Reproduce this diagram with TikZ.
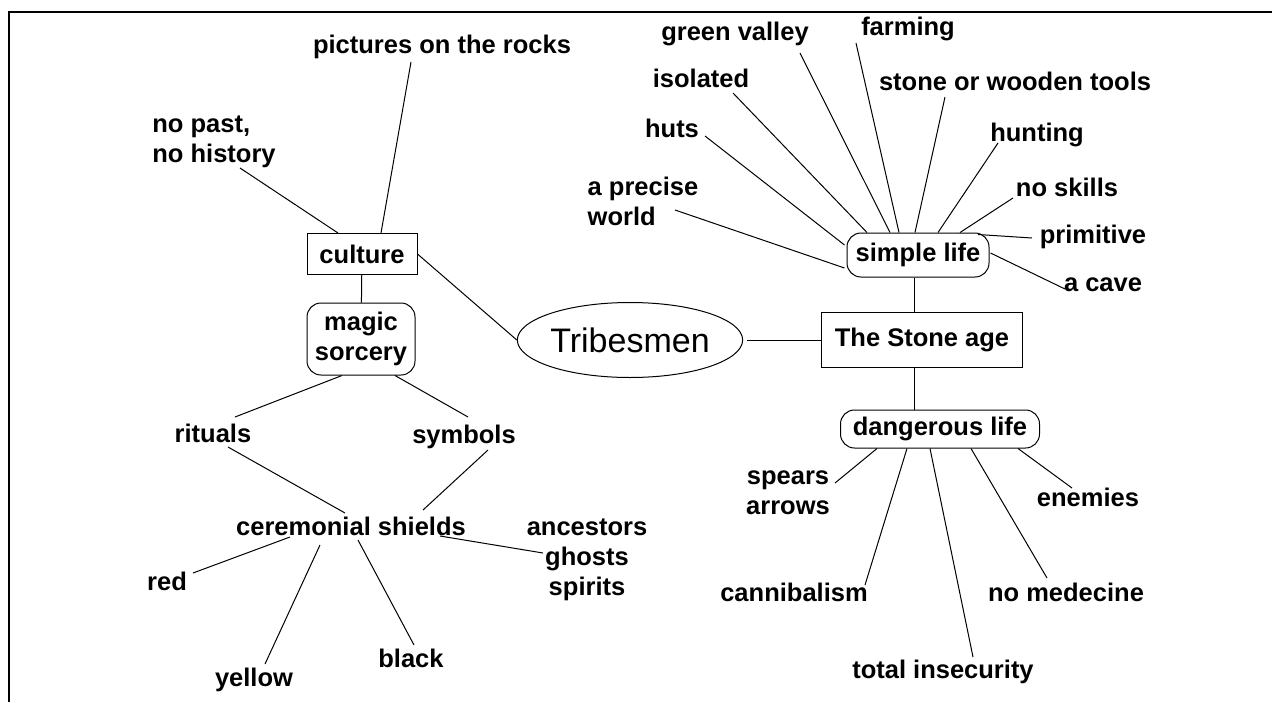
\documentclass[tikz,border=0pt]{standalone}
\usepackage{fontspec}
\setmainfont{Liberation Sans}
\usepackage{tikz}
\usetikzlibrary{positioning,shapes.geometric}

\begin{document}
\begin{tikzpicture}[x=1pt, y=-1pt,
    word/.style={font=\bfseries\fontsize{25.5}{30}\selectfont, inner sep=2pt, align=center},
    topic/.style={word, draw, line width=1pt, minimum height=42pt},
    softbox/.style={topic, rounded corners=14pt},
    link/.style={line width=1pt},
]
\useasboundingbox (0,0) rectangle (1272,702);
\draw[line width=2.5pt] (1272,12) -- (9,12) -- (9,702);

% centre
\node[ellipse, draw, line width=1pt, minimum width=207pt, minimum height=75pt, inner sep=0pt,
    font=\fontsize{34}{40}\selectfont] (tribes) at (630,340) {Tribesmen};

% culture side
\node[word] (pictures) at (442,47) {pictures on the rocks};
\node[word, align=left] (nopast) at (214,142) {no past,\\no history};
\node[topic, minimum width=110pt, minimum height=41pt] (culture) at (362,254) {culture};
\node[softbox, minimum width=108pt, minimum height=72pt] (magic) at (361,339) {magic\\sorcery};
\node[word] (rituals) at (213,433) {rituals};
\node[word] (symbols) at (464,437) {symbols};
\node[word] (shields) at (351,526) {ceremonial shields};
\node[word] (spirits) at (587,560) {ancestors\\ghosts\\spirits};
\node[word] (red) at (167,581) {red};
\node[word] (yellow) at (254,680) {yellow};
\node[word] (black) at (411,658) {black};

% stone age side
\node[topic, minimum width=201pt, minimum height=55pt] (stone) at (922,340) {The Stone age};
\node[softbox, minimum width=142pt, minimum height=44pt] (simple) at (918,255) {simple life};
\node[softbox, minimum width=199pt, minimum height=38pt] (danger) at (940,429) {dangerous life};
\node[word, align=left] (precise) at (643,201) {a precise\\world};
\node[word] (huts) at (672,128) {huts};
\node[word] (isolated) at (701,78) {isolated};
\node[word] (valley) at (735,34) {green valley};
\node[word] (farming) at (908,29) {farming};
\node[word] (tools) at (1015,81) {stone or wooden tools};
\node[word] (hunting) at (1037,135) {hunting};
\node[word] (skills) at (1067,187) {no skills};
\node[word] (primitive) at (1093,237) {primitive};
\node[word] (cave) at (1103,285) {a cave};
\node[word] (spears) at (788,493) {spears\\arrows};
\node[word] (cannibal) at (794,592) {cannibalism};
\node[word] (insecure) at (943,672) {total insecurity};
\node[word] (medecine) at (1066,592) {no medecine};
\node[word] (enemies) at (1088,497) {enemies};

\draw[link] ([shift={(-31,15)}]pictures.center) -- ([xshift=19pt]culture.north);
\draw[link] ([shift={(26,26)}]nopast.center) -- ([xshift=-24pt]culture.north);
\draw[link] (culture) -- (magic);
\draw[link] (culture.east) -- (tribes.west);
\draw[link] ([xshift=-19pt]magic.south) -- ([shift={(22,-16)}]rituals.center);
\draw[link] ([xshift=34pt]magic.south) -- ([shift={(4,-20)}]symbols.center);
\draw[link] ([shift={(15,14)}]rituals.center) -- ([shift={(-6,-13)}]shields.center);
\draw[link] ([shift={(24,13)}]symbols.center) -- ([shift={(72,-16)}]shields.center);
\draw[link] ([shift={(89,10)}]shields.center) -- ([shift={(-44,-7)}]spirits.center);
\draw[link] ([shift={(-61,11)}]shields.center) -- ([shift={(26,-8)}]red.center);
\draw[link] ([shift={(-31,19)}]shields.center) -- ([shift={(11,-16)}]yellow.center);
\draw[link] ([shift={(7,14)}]shields.center) -- ([shift={(3,-13)}]black.center);

\draw[link] ([xshift=4pt]tribes.east) -- (stone.west);
\draw[link] ([xshift=-4pt]simple.south) -- ([xshift=-8pt]stone.north);
\draw[link] ([xshift=-8pt]stone.south) -- ([xshift=-26pt]danger.north);

% simple life
\draw[link] ([shift={(32,9)}]precise.center) -- ([shift={(-2,13)}]simple.west);
\draw[link] ([shift={(33,8)}]huts.center) -- ([shift={(-2,-10)}]simple.west);
\draw[link] ([shift={(32,15)}]isolated.center) -- ([xshift=-51pt]simple.north);
\draw[link] ([shift={(65,19)}]valley.center) -- ([xshift=-28pt]simple.north);
\draw[link] ([shift={(-52,14)}]farming.center) -- ([xshift=-19pt]simple.north);
\draw[link] ([shift={(-70,16)}]tools.center) -- ([xshift=-3pt]simple.north);
\draw[link] ([shift={(-39,8)}]hunting.center) -- ([xshift=20pt]simple.north);
\draw[link] ([shift={(-54,11)}]skills.center) -- ([xshift=42pt]simple.north);
\draw[link] ([shift={(-61,1)}]primitive.center) -- ([shift={(60,2)}]simple.north);
\draw[link] ([shift={(-38,4)}]cave.center) -- ([shift={(1,-2)}]simple.east);

% dangerous life
\draw[link] ([xshift=-63pt]danger.south) -- ([shift={(47,-10)}]spears.center);
\draw[link] ([xshift=-33pt]danger.south) -- ([shift={(71,-7)}]cannibal.center);
\draw[link] ([xshift=-10pt]danger.south) -- ([shift={(30,-15)}]insecure.center);
\draw[link] ([xshift=31pt]danger.south) -- ([shift={(-19,-14)}]medecine.center);
\draw[link] ([xshift=78pt]danger.south) -- ([shift={(-16,-9)}]enemies.center);
\end{tikzpicture}
\end{document}
